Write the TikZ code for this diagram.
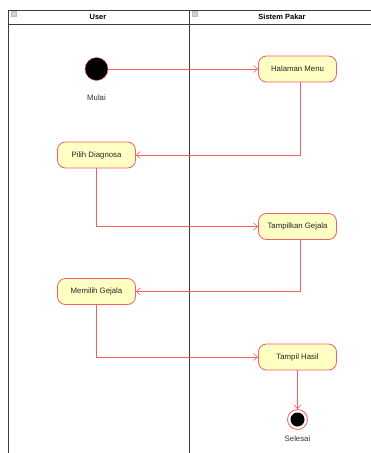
\documentclass[tikz,border=0pt]{standalone}
\usepackage{fontspec}
\setmainfont{Liberation Sans}
\usepackage{xcolor}
\usepackage{tikz}
\usetikzlibrary{arrows.meta}
\usetikzlibrary{shapes.geometric,shapes.misc}
\usetikzlibrary{calc}
\usetikzlibrary{positioning}

\definecolor{actfill}{RGB}{255,255,196}
\definecolor{actline}{RGB}{245,95,95}
\definecolor{laneline}{RGB}{60,60,60}

\tikzset{
  activity/.style={rectangle, rounded corners=8pt, draw=actline, line width=0.8pt, fill=actfill,
    minimum width=78pt, minimum height=26pt, inner sep=1pt,
    font=\fontsize{7.8}{9}\selectfont, text=black!85},
  flow/.style={draw=actline, line width=0.6pt, -{Straight Barb[length=4pt,width=7pt]}},
  lane/.style={draw=laneline, line width=0.8pt},
  lanetitle/.style={font=\fontsize{7.5}{9}\selectfont\bfseries},
  collapse/.style={rectangle, draw=gray!50, fill=gray!35, minimum size=5pt, inner sep=0pt},
  caption/.style={font=\fontsize{7.8}{9}\selectfont, text=black!80}
}

\begin{document}
\begin{tikzpicture}[x=1pt,y=-1pt]
\useasboundingbox (0,0) rectangle (371,453);
% swimlanes
\draw[lane] (8,10) -- (371,10);
\draw[lane] (8,24) -- (371,24);
\draw[lane] (8,10) -- (8,453);
\draw[lane] (189,10) -- (189,453);
\node [collapse] (minusA) at (14,14) {};
\node [collapse] (minusB) at (195,14) {};
\node [lanetitle] (laneUser) at (98,17) {User};
\node [lanetitle] (lanePakar) at (282,17) {Sistem Pakar};

% start
\node [circle, draw=actline, fill=black, minimum size=23pt, inner sep=0pt] (start) at (96.5,69) {};
\node [caption] (mulai) at (96.5,98) {Mulai};

% activities
\node [activity] (menu) at (297.5,69) {Halaman Menu};
\node [activity] (diag) at (96.5,155) {Pilih Diagnosa};
\node [activity] (tampil) at (297.5,226.5) {Tampilkan Gejala};
\node [activity] (pilih) at (96.5,291.5) {Memilih Gejala};
\node [activity] (hasil) at (297.5,357) {Tampil Hasil};

% end
\node [circle, draw=actline, line width=0.8pt, fill=white, minimum size=20pt, inner sep=0pt] (stop) at (297.5,419.5) {};
\fill (stop) circle (7pt);
\node [caption] (selesai) at (297.5,439) {Selesai};

% flows
\draw[flow] (start) -- (menu);
\draw[flow] ([xshift=2.5pt]menu.south) |- (diag.east);
\draw[flow] (diag.south) |- (tampil.west);
\draw[flow] ([xshift=2.5pt]tampil.south) |- (pilih.east);
\draw[flow] (pilih.south) |- (hasil.west);
\draw[flow] (hasil) -- (stop);
\end{tikzpicture}
\end{document}
